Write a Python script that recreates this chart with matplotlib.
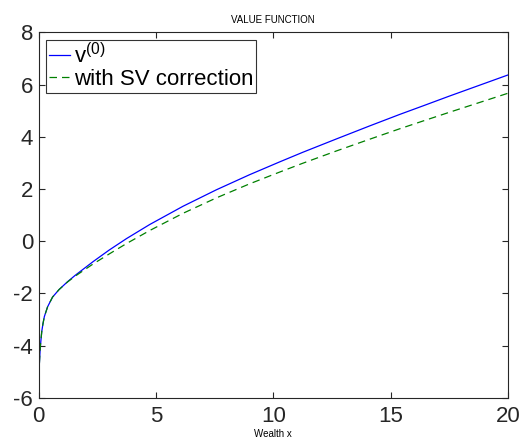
import numpy as np
import matplotlib.pyplot as plt

plt.rcParams['font.family'] = ['Liberation Sans', 'DejaVu Sans']
plt.rcParams['mathtext.fontset'] = 'custom'
plt.rcParams['mathtext.rm'] = 'Liberation Sans'
plt.rcParams['mathtext.it'] = 'Liberation Sans:italic'
plt.rcParams['axes.unicode_minus'] = False

# wealth grid
wealth = [0.03, 0.05, 0.07, 0.13, 0.18, 0.24, 0.38, 0.59, 0.87, 1.23, 1.55,
          2.32, 3.0, 3.74, 4.73, 6.15, 7.57, 8.99, 10.27, 11.26, 12.69,
          14.11, 15.39, 16.39, 17.5, 20.0]

# value function, leading order term
v0 = [-4.67, -4.33, -4.04, -3.46, -3.17, -2.89, -2.51, -2.14, -1.85, -1.55,
      -1.31, -0.78, -0.34, 0.10, 0.64, 1.34, 1.97, 2.55, 3.04, 3.41, 3.92,
      4.42, 4.86, 5.19, 5.56, 6.37]

# value function with the stochastic volatility correction
v_sv = [-4.67, -4.33, -4.04, -3.46, -3.17, -2.89, -2.51, -2.14, -1.85,
        -1.56, -1.34, -0.87, -0.49, -0.09, 0.41, 1.07, 1.66, 2.20, 2.65,
        2.99, 3.46, 3.91, 4.31, 4.61, 4.94, 5.67]

fig = plt.figure(figsize=(5.23, 4.45), dpi=100)
ax = fig.add_axes([0.074, 0.106, 0.897, 0.821])

ax.plot(wealth, v0, color=(0, 0, 1), lw=0.9, label=r'v$^{(0)}$')
ax.plot(wealth, v_sv, color=(0, 0.5, 0), lw=0.9, ls=(0, (6, 4)),
        label='with SV correction')

ax.set_xlim(0, 20)
ax.set_ylim(-6, 8)
ax.set_xticks([0, 5, 10, 15, 20])
ax.set_yticks([-6, -4, -2, 0, 2, 4, 6, 8])

dark = '#262626'
for s in ax.spines.values():
    s.set_color(dark)
    s.set_linewidth(0.8)
ax.tick_params(direction='in', length=4, width=0.8, colors=dark,
               labelsize=16, top=True, right=True, pad=4)
ax.tick_params(axis='x', pad=6)

ax.set_title('VALUE FUNCTION', fontsize=7, pad=7)
ax.set_xlabel('Wealth x', fontsize=7, labelpad=1)

leg = ax.legend(loc='upper left', fontsize=16, frameon=True, fancybox=False,
                edgecolor='black', handlelength=0.95, handletextpad=0.15,
                borderpad=0.12, labelspacing=0.05, borderaxespad=0.35)
leg.get_frame().set_linewidth(0.8)

fig.savefig('out.png', dpi=100)
